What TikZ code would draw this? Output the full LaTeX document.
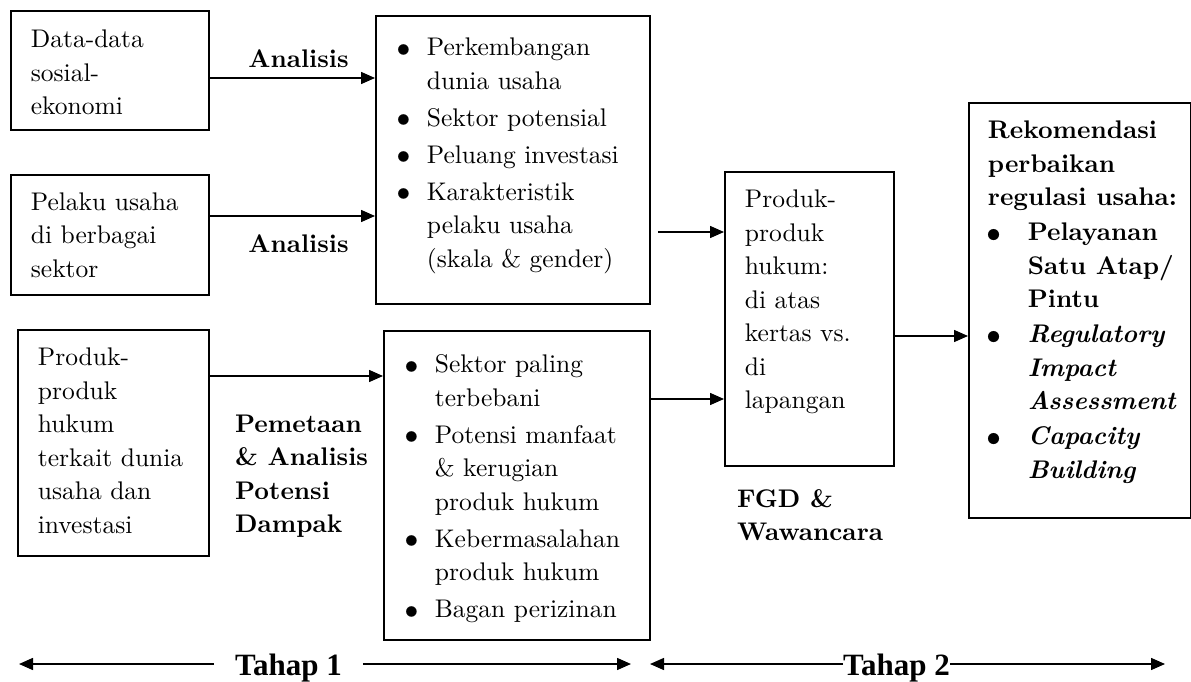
\documentclass[tikz,border=0pt]{standalone}
\usepackage{fontspec}
\setmainfont{lmroman10}[Extension=.otf, UprightFont=*-regular, BoldFont=*-bold,
   ItalicFont=*-italic, BoldItalicFont=*-bolditalic]
\newfontfamily\phasefont{Liberation Serif}
\usetikzlibrary{arrows.meta,positioning}
\newcommand{\bodysize}{\fontsize{25.5}{33.5}\selectfont}
\tikzset{
     box node/.style={draw, line width=1.8pt, inner sep=0pt, anchor=north west, font=\bodysize},
     text node/.style={inner sep=0pt, anchor=base west, font=\bodysize\bfseries},
     label node/.style={inner sep=0pt, anchor=base, font=\bodysize\bfseries},
     phase node/.style={inner ysep=0pt, anchor=base, font=\phasefont\fontsize{31}{36}\selectfont\bfseries},
     flowedge/.style={black, line width=1.5pt, -{Triangle[length=14pt,width=12pt]}},
}
% box text: width, height, top pad, left pad, content
\newcommand{\boxtext}[5]{\parbox[c][#2pt][t]{#1pt}{\everypar{\strut}\leftskip=#4pt\rightskip=0pt plus 1fil\parindent=0pt\vspace*{#3pt}#5}}
% bullet item: extra space before, hanging indent, bullet pulled left
\newcommand{\bitem}[3]{\par\vspace{#1pt}\noindent\hangindent=#2pt\hangafter=1\hspace*{-#3pt}\makebox[\dimexpr#2pt+#3pt\relax][l]{\raisebox{-2.5pt}{\scalebox{1.45}{\textbullet}}}\ignorespaces}
\begin{document}
\begin{tikzpicture}[x=1pt,y=-1pt]
  \useasboundingbox (0,0) rectangle (1191,682);

  % Tahap 1: inputs
  \node [box node] (data) at (10,10)
     {\boxtext{198}{119}{13.5}{20}{Data-data\\ sosial-\\ ekonomi}};
  \node [box node] (pelaku) [below right=43pt and 0pt of data.south west]
     {\boxtext{198}{120}{12}{20}{Pelaku usaha\\ di berbagai\\ sektor}};
  \node [box node] (produk) at (17,329)
     {\boxtext{191}{226}{12.5}{20}{Produk-\\ produk\\ hukum\\ terkait dunia\\ usaha dan\\ investasi}};

  % Tahap 1: results
  \node [box node] (usaha) at (375,15)
     {\boxtext{274}{288}{16.5}{21}{%
        \bitem{0}{30}{7}Perkembangan\\ dunia usaha
        \bitem{3.5}{30}{7}Sektor potensial
        \bitem{3.5}{30}{7}Peluang investasi
        \bitem{3.5}{30}{7}Karakteristik\\ pelaku usaha\\ (skala \& gender)}};
  \node [box node] (dampak) at (383,330)
     {\boxtext{266}{309}{18.5}{21}{%
        \bitem{0}{30}{7}Sektor paling\\ terbebani
        \bitem{3.5}{30}{7}Potensi manfaat\\ \& kerugian\\ produk hukum
        \bitem{3.5}{30}{7}Kebermasalahan\\ produk hukum
        \bitem{3.5}{30}{7}Bagan perizinan}};

  % Tahap 2
  \node [box node] (lapangan) at (724,171)
     {\boxtext{169}{294}{12.5}{20}{Produk-\\ produk\\ hukum:\\ di atas\\ kertas vs.\\ di\\ lapangan}};
  \node [box node] (rekomendasi) at (968,102)
     {\boxtext{222}{415}{12.5}{19}{\bfseries Rekomendasi\\ perbaikan\\ regulasi usaha:
        \bitem{1.5}{40}{10}Pelayanan\\ Satu Atap/\\ Pintu
        \bitem{1.5}{40}{10}\textit{Regulatory\\ Impact\\ Assessment}
        \bitem{1.5}{40}{10}\textit{Capacity\\ Building}}};

  % labels
  \node [label node] (analisis1) at (298.5,68) {Analisis};
  \node [label node] (analisis2) at (298.5,252) {Analisis};
  \node [text node] (pemetaan) at (235,432)
     {\parbox[t]{145pt}{\raggedright Pemetaan\\ \& Analisis\\ Potensi\\ Dampak}};
  \node [text node] (fgd) at (737,507)
     {\parbox[t]{150pt}{\raggedright FGD \&\\ Wawancara}};

  \path[flowedge]
     (data.east |- 0,78) edge (usaha.west |- 0,78)
     (pelaku.east |- 0,216) edge (usaha.west |- 0,216)
     (produk.east |- 0,376) edge (dampak.west |- 0,376)
     ([xshift=7pt]usaha.east |- 0,232) edge (lapangan.west |- 0,232)
     (dampak.east |- 0,399) edge (lapangan.west |- 0,399)
     (lapangan.east |- 0,336) edge (rekomendasi.west |- 0,336);

  % phases
  \coordinate (t1l) at (19,664);
  \coordinate (t1r) at (631,664);
  \coordinate (t2l) at (650,664);
  \coordinate (t2r) at (1165,664);
  \node [phase node, inner xsep=21pt] (tahap1) at (288.5,675) {Tahap 1};
  \node [phase node, inner xsep=0pt] (tahap2) at (896.5,675) {Tahap 2};
  \draw [flowedge] (tahap1.west |- t1l) -- (t1l);
  \draw [flowedge] (tahap1.east |- t1r) -- (t1r);
  \draw [flowedge] (tahap2.west |- t2l) -- (t2l);
  \draw [flowedge] (tahap2.east |- t2r) -- (t2r);
\end{tikzpicture}
\end{document}
